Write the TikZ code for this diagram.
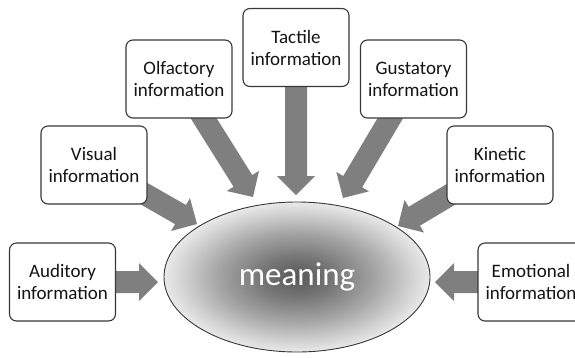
\documentclass[tikz,border=0pt]{standalone}
\usepackage{fontspec}
\setmainfont{Carlito}
\usetikzlibrary{shapes.geometric,calc,backgrounds}
\definecolor{arrowgray}{HTML}{7F7F7F}
\definecolor{framegray}{HTML}{383838}
\definecolor{textgray}{HTML}{141414}
\definecolor{glowA}{HTML}{575757}
\definecolor{glowB}{HTML}{777777}
\definecolor{glowC}{HTML}{A6A6A6}
\definecolor{glowD}{HTML}{CFCFCF}
\definecolor{glowE}{HTML}{E9E9E9}
% soft grey glow, darkest in the middle of the ellipse
\pgfdeclareradialshading{meaningglow}{\pgfpoint{0bp}{0bp}}{%
  color(0bp)=(glowA); color(7bp)=(glowB); color(15bp)=(glowC);
  color(21bp)=(glowD); color(25bp)=(glowE); color(50bp)=(glowE)}
\begin{document}
\begin{tikzpicture}[x=1pt,y=-1pt,
  infobox/.style={draw=framegray, line width=1.1pt, rounded corners=7pt,
    fill=white, minimum width=106pt, minimum height=78pt, inner sep=0pt,
    align=center, text=textgray, font=\fontsize{19}{22}\selectfont},
  meaningshape/.style={ellipse, draw=framegray, line width=0.9pt,
    minimum width=266pt, minimum height=150pt, inner sep=0pt,
    shading=meaningglow, text=white,
    font=\fontsize{33}{36}\selectfont},
  % wide block arrow: 22pt shaft, 38pt wide head, 19pt long head
  blockarrow/.style={fill=arrowgray, draw=none,
    to path={
      let \p1=(\tikztostart), \p2=(\tikztotarget),
          \n1={atan2(\y2-\y1,\x2-\x1)},
          \n2={veclen(\x2-\x1,\y2-\y1)},
          \n3={\n2-19}
      in
      ([shift={(\p1)},rotate=\n1]0pt,11pt)
      -- ([shift={(\p1)},rotate=\n1]\n3,11pt)
      -- ([shift={(\p1)},rotate=\n1]\n3,19pt)
      -- ([shift={(\p1)},rotate=\n1]\n2,0pt)
      -- ([shift={(\p1)},rotate=\n1]\n3,-19pt)
      -- ([shift={(\p1)},rotate=\n1]\n3,-11pt)
      -- ([shift={(\p1)},rotate=\n1]0pt,-11pt)
      -- cycle
    }}
]
\useasboundingbox (0,0) rectangle (575,357);
\clip (0,0) rectangle (575,357);

% central ellipse
\node[meaningshape] (mean) at (297,277) {\raisebox{-4pt}{meaning}};

% the seven information sources
\node[infobox] (aud) at (62.5,282) {Auditory\\information};
\node[infobox] (vis) at (94,165)   {Visual\\information};
\node[infobox] (olf) at (179,79)   {Olfactory\\information};
\node[infobox] (tac) at (296,47.5) {Tactile\\information};
\node[infobox] (gus) at (413.5,79) {Gustatory\\information};
\node[infobox] (kin) at (500,165)  {Kinetic\\information};
\node[infobox] (emo) at (531,282)  {Emotional\\information};

% arrow tips just short of the ellipse
\coordinate (tA) at (158,282);
\coordinate (tV) at (197,224);
\coordinate (tO) at (253,197);
\coordinate (tT) at (296,195);
\coordinate (tG) at (343,198);
\coordinate (tK) at (398,226);
\coordinate (tE) at (435,282);

\begin{scope}[on background layer]
  \path[blockarrow] (aud.center) to (tA);
  \path[blockarrow] (vis.center) to (tV);
  \path[blockarrow] (olf.center) to (tO);
  \path[blockarrow] (tac.center) to (tT);
  \path[blockarrow] (gus.center) to (tG);
  \path[blockarrow] (kin.center) to (tK);
  \path[blockarrow] (emo.center) to (tE);
\end{scope}
\end{tikzpicture}
\end{document}
